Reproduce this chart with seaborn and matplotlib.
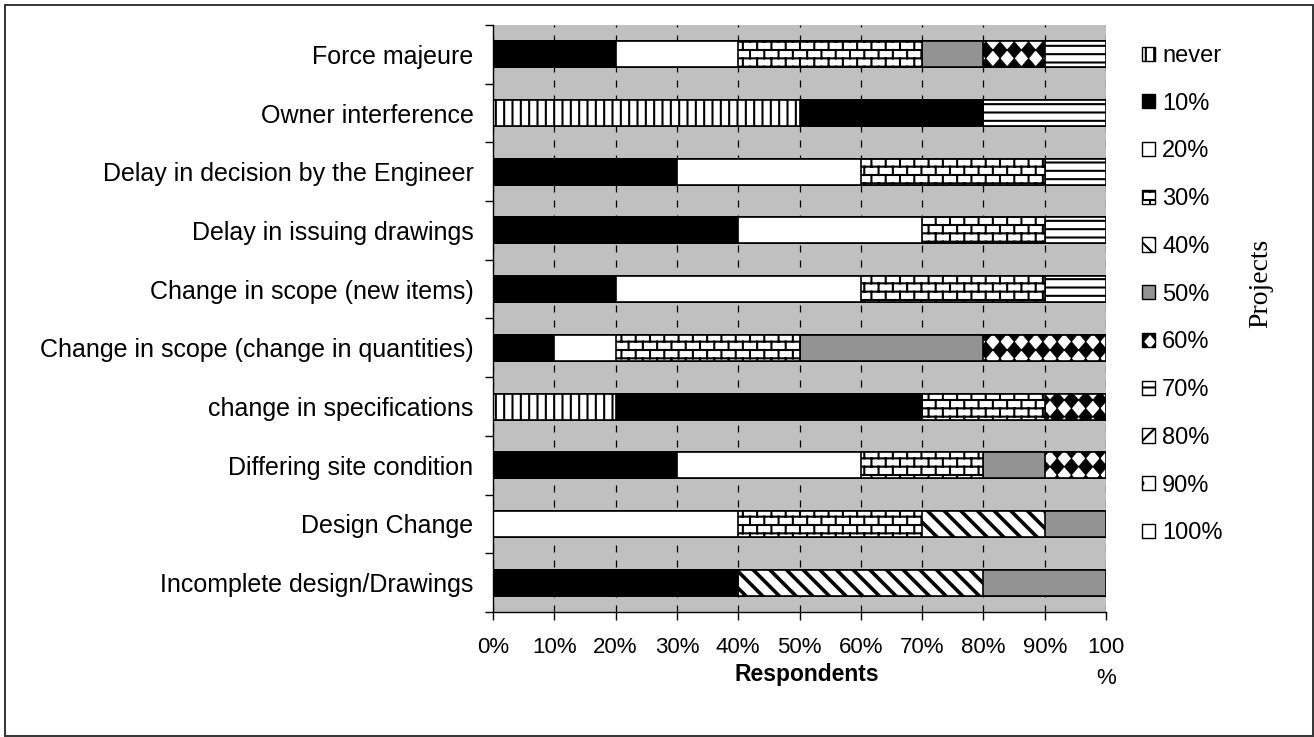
import numpy as np
import matplotlib
matplotlib.use("Agg")
import matplotlib.pyplot as plt
import matplotlib.hatch as mhatch
import matplotlib.patches as mpatches
from matplotlib.path import Path
import seaborn as sns

# ---------------- data ----------------
categories = [
    "Force majeure",
    "Owner interference",
    "Delay in decision by the Engineer",
    "Delay in issuing drawings",
    "Change in scope (new items)",
    "Change in scope (change in quantities)",
    "change in specifications",
    "Differing site condition",
    "Design Change",
    "Incomplete design/Drawings",
]
never = [0, 50, 0, 0, 0, 0, 20, 0, 0, 0]
p10 = [20, 30, 30, 40, 20, 10, 50, 30, 0, 40]
p20 = [20, 0, 30, 30, 40, 10, 0, 30, 40, 0]
p30 = [30, 0, 30, 20, 30, 30, 20, 20, 30, 0]
p40 = [0, 0, 0, 0, 0, 0, 0, 0, 20, 40]
p50 = [10, 0, 0, 0, 0, 30, 0, 10, 10, 20]
p60 = [10, 0, 0, 0, 0, 20, 10, 10, 0, 0]
p70 = [10, 20, 10, 10, 10, 0, 0, 0, 0, 0]
p80 = [0, 0, 0, 0, 0, 0, 0, 0, 0, 0]
p90 = [0, 0, 0, 0, 0, 0, 0, 0, 0, 0]
p100 = [0, 0, 0, 0, 0, 0, 0, 0, 0, 0]

series_labels = ["never", "10%", "20%", "30%", "40%", "50%", "60%",
                 "70%", "80%", "90%", "100%"]
series_values = [never, p10, p20, p30, p40, p50, p60, p70, p80, p90, p100]

x_ticks = [0, 10, 20, 30, 40, 50, 60, 70, 80, 90, 100]
x_tick_labels = ["0%", "10%", "20%", "30%", "40%", "50%", "60%",
                 "70%", "80%", "90%", "100\n%"]

# ---------------- custom hatch patterns ----------------
class BrickHatch(mhatch.HatchPatternBase):
    rows = 12
    cols = 7

    def __init__(self, hatch, density):
        if hatch.count('O') > 0:
            self.segs = self._segments()
            self.num_vertices = 2 * len(self.segs)
        else:
            self.num_vertices = 0

    def _segments(self):
        segs = []
        R, C = self.rows, self.cols
        for r in range(R + 1):
            y = r / R
            segs.append(((0.0, y), (1.0, y)))
        for r in range(R):
            y0, y1 = r / R, (r + 1) / R
            shift = 0.5 / C if r % 2 else 0.0
            for c in range(C + 1):
                x = c / C + shift
                if x <= 1.0 + 1e-9:
                    segs.append(((x, y0), (x, y1)))
        return segs

    def set_vertices_and_codes(self, vertices, codes):
        v = np.array(self.segs, dtype=float).reshape(-1, 2)
        vertices[:] = v
        codes[0::2] = Path.MOVETO
        codes[1::2] = Path.LINETO


class DiamondHatch(mhatch.HatchPatternBase):
    nx = 7
    ny = 6

    def __init__(self, hatch, density):
        if hatch.count('*') > 0:
            self.centers = [(i / self.nx, j / self.ny)
                            for i in range(self.nx + 1)
                            for j in range(self.ny + 1)]
            self.num_vertices = 5 * len(self.centers)
        else:
            self.num_vertices = 0

    def set_vertices_and_codes(self, vertices, codes):
        a = 0.5 / self.nx
        b = 0.5 / self.ny
        shape = np.array([[0, b], [-a, 0], [0, -b], [a, 0], [0, b]], dtype=float)
        vertices[:] = np.concatenate([shape + np.array(c) for c in self.centers])
        sc = np.array([Path.MOVETO, Path.LINETO, Path.LINETO, Path.LINETO,
                       Path.CLOSEPOLY], dtype=Path.code_type)
        codes[:] = np.tile(sc, len(self.centers))


_types = mhatch._hatch_types
_types[_types.index(mhatch.LargeCircles)] = BrickHatch
_types[_types.index(mhatch.Stars)] = DiamondHatch

# ---------------- styles ----------------
plt.rcParams['font.family'] = ['Liberation Sans', 'DejaVu Sans']
plt.rcParams['hatch.linewidth'] = 1.5

styles = {
    "never": dict(face="white", hatch="||", hlw=1.5),
    "10%": dict(face="black", hatch=None, hlw=1.5),
    "20%": dict(face="white", hatch=None, hlw=1.5),
    "30%": dict(face="white", hatch="O", hlw=1.5),
    "40%": dict(face="white", hatch="\\\\", hlw=2.6),
    "50%": dict(face="#939393", hatch=None, hlw=1.5),
    "60%": dict(face="white", hatch="*", hlw=0.5),
    "70%": dict(face="white", hatch="--", hlw=1.5),
    "80%": dict(face="white", hatch="//", hlw=1.5),
    "90%": dict(face="white", hatch=".", hlw=1.0),
    "100%": dict(face="white", hatch="\\", hlw=2.0),
}

W, H, DPI = 13.14, 7.37, 100
fig = plt.figure(figsize=(W, H), dpi=DPI)
ax = fig.add_axes([493 / 1314, 1 - 612 / 737, (1106 - 493) / 1314, (612 - 25) / 737])
ax.set_facecolor("#C0C0C0")
ax.set_axisbelow(True)

cums = np.cumsum(np.array(series_values, dtype=float), axis=0)

# draw cumulative bars from the last series to the first so each covers the next
for i in range(len(series_labels) - 1, -1, -1):
    lab = series_labels[i]
    st = styles[lab]
    kw = dict(edgecolor="black", linewidth=1.2)
    if st["hatch"]:
        kw["hatch"] = st["hatch"]
    sns.barplot(x=cums[i], y=categories, order=categories, orient="y",
                color=st["face"], saturation=1, width=0.444, errorbar=None,
                ax=ax, **kw)
    cont = ax.containers[-1]
    for p in cont:
        if hasattr(p, "set_hatch_linewidth"):
            p.set_hatch_linewidth(st["hlw"])

ax.set_xlim(0, 100)
ax.set_ylim(9.5, -0.5)
ax.set_xlabel("")
ax.set_ylabel("")

ax.grid(axis="x", color="black", linewidth=0.9, linestyle=(0, (5.6, 6.4)))
ax.grid(axis="y", visible=False)

ax.set_xticks(x_ticks)
ax.set_xticklabels(x_tick_labels)
ax.get_xticklabels()[-1].set_linespacing(1.6)
ax.set_yticks(range(len(categories)))
ax.set_yticklabels(categories)
ax.set_yticks(np.arange(-0.5, len(categories), 1.0), minor=True)

ax.tick_params(axis="x", which="major", length=6, width=1, direction="out",
               pad=12, labelsize=16, bottom=True, color="black")
ax.tick_params(axis="y", which="major", length=0, pad=14, labelsize=18, left=True)
ax.tick_params(axis="y", which="minor", length=6, width=1, direction="out",
               left=True, color="black")

for s in ["top", "right"]:
    ax.spines[s].set_visible(False)
for s in ["left", "bottom"]:
    ax.spines[s].set_color("black")
    ax.spines[s].set_linewidth(1.0)

fig.text(807 / 1314, 1 - 674 / 737, "Respondents", ha="center", va="center",
         fontsize=16.5, fontweight="bold")
fig.text(1261 / 1314, 1 - 283 / 737, "Projects", ha="center", va="center",
         rotation=90, fontsize=20, family=["Liberation Serif", "DejaVu Serif"])

# legend
handles = []
for lab in series_labels:
    st = styles[lab]
    handles.append(mpatches.Patch(facecolor=st["face"], edgecolor="black",
                                  hatch=st["hatch"], linewidth=1.0, label=lab))
fig.legend(handles=handles, loc="upper left",
           bbox_to_anchor=(1142 / 1314, 1 - 45 / 737),
           frameon=False, fontsize=17, handlelength=0.55, handleheight=0.55,
           handletextpad=0.3, labelspacing=1.09, borderpad=0, borderaxespad=0)

# outer border
fig.patches.append(mpatches.Rectangle((5 / 1314, 1 / 737), 1307.5 / 1314, 731 / 737,
                                      transform=fig.transFigure, fill=False,
                                      edgecolor="#333333", linewidth=1.4))

fig.savefig("out.png", dpi=DPI)
